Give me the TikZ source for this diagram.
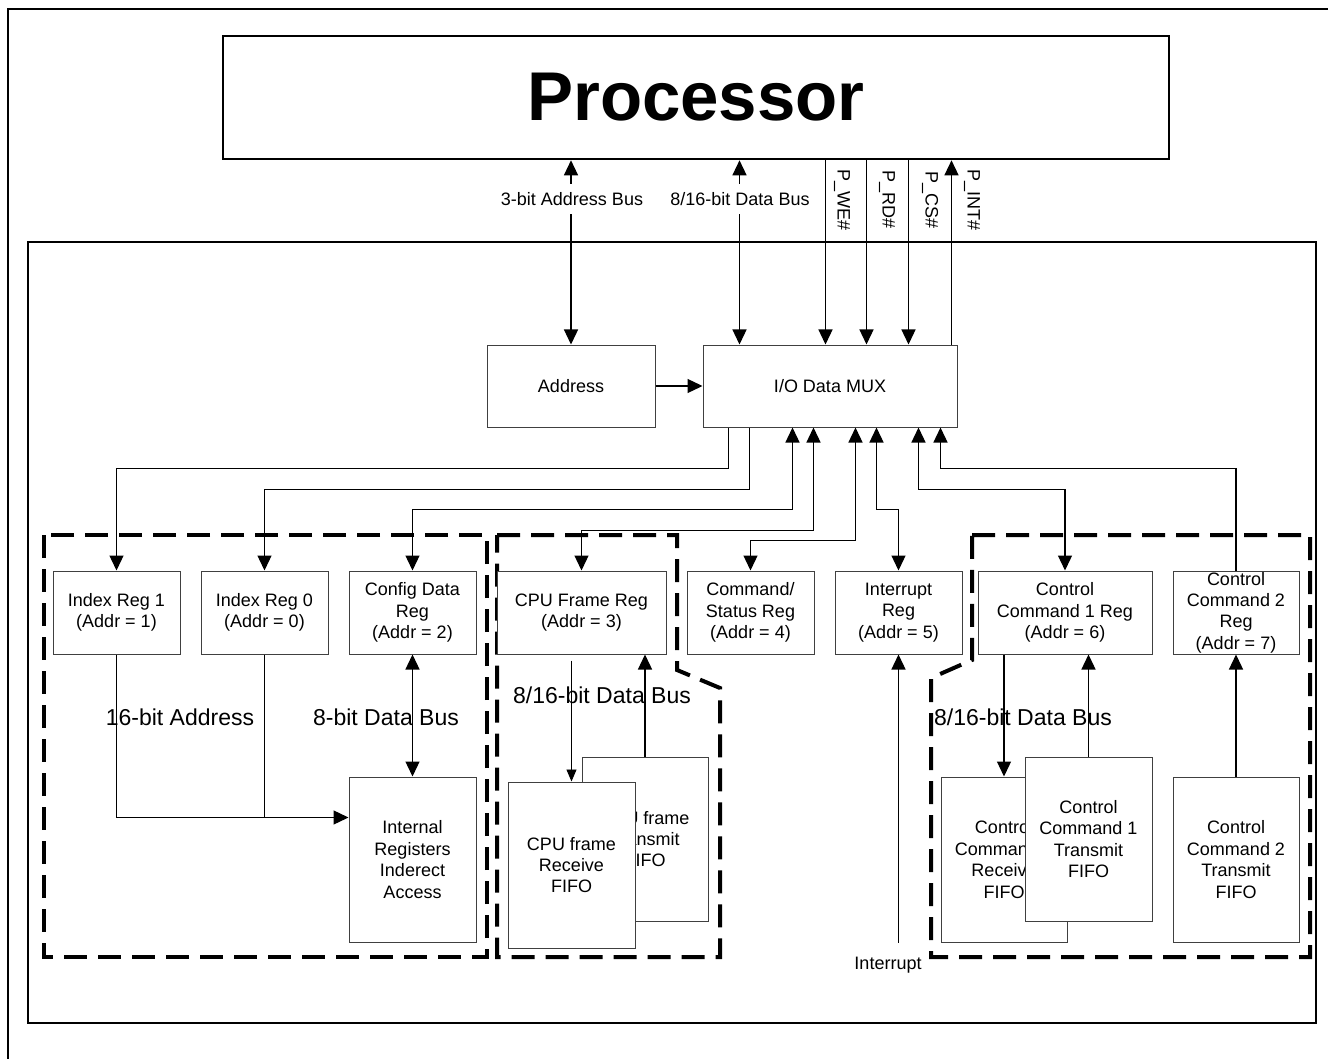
\documentclass[tikz,border=0pt]{standalone}
\usepackage{fontspec}
\setmainfont{Liberation Sans}
\usetikzlibrary{arrows.meta,calc}
\begin{document}
\begin{tikzpicture}[x=0.5pt,y=-0.5pt,
  >={Triangle[length=7.5pt,width=7pt]},
  frame/.style={line width=1.3pt},
  regbox/.style={draw=black!75,line width=0.5pt,fill=white,align=center,inner sep=0pt,
    font=\fontsize{9}{10.7}\selectfont,minimum width=63.5pt,minimum height=41.5pt},
  fifobox/.style={regbox,minimum height=82.5pt},
  conn/.style={line width=0.65pt},
  thinconn/.style={line width=0.45pt,-{Triangle[length=6pt,width=5pt]}},
  grp/.style={line width=2pt,dash pattern=on 11.5pt off 5.5pt},
  small/.style={font=\fontsize{9}{10.7}\selectfont,inner sep=1pt},
  buslab/.style={small,inner ysep=4pt},
  big/.style={font=\fontsize{11.5}{13}\selectfont,inner sep=0pt},
]
\useasboundingbox (0,0) rectangle (1328,1059);
% frames
\draw[frame] (1330,9) -- (8,9) -- (8,1061);
\draw[frame] (28,242) rectangle (1316,1023);
% dashed groups
\draw[grp] (44,535) rectangle (487,957);
\draw[grp] (497,535) -- (677,535) -- (677,670) -- (720,688) -- (720,957) -- (497,957) -- cycle;
\draw[grp] (972,535) -- (1310,535) -- (1310,957) -- (931,957) -- (931,678) -- (972,660) -- cycle;
% processor
\node[draw,frame,minimum width=473pt,minimum height=61.5pt,inner sep=0pt,
  font=\fontsize{34.5}{40}\selectfont\bfseries] (proc) at (696,97.5) {Processor};
% address and mux
\node[regbox,minimum width=84pt,minimum height=41pt] (addr) at (571,386) {Address};
\node[regbox,minimum width=127pt,minimum height=41pt] (mux) at (830,386) {I/O Data MUX};
% registers
\node[regbox] (ir1) at (116.5,612.5) {Index Reg 1\\(Addr = 1)};
\node[regbox] (ir0) at (264.5,612.5) {Index Reg 0\\(Addr = 0)};
\node[regbox] (cfg) at (412.5,612.5) {Config Data\\Reg\\(Addr = 2)};
\node[regbox,minimum width=84.5pt] (cpu) at (581.5,612.5) {CPU Frame Reg\\(Addr = 3)};
\node[regbox] (cmd) at (750.5,612.5) {Command/\\Status Reg\\(Addr = 4)};
\node[regbox] (intr) at (898.5,612.5) {Interrupt\\Reg\\(Addr = 5)};
\node[regbox,minimum width=87pt] (cc1) at (1065,612.5) {Control\\Command 1 Reg\\(Addr = 6)};
\node[regbox,minimum width=63pt] (cc2) at (1236,612.5) {Control\\Command 2\\Reg\\(Addr = 7)};
% fifos
\node[fifobox] (intreg) at (412.5,859.5) {Internal\\Registers\\Inderect\\Access};
\node[fifobox,minimum width=63pt,minimum height=82pt] (tx) at (645,839) {CPU frame\\Transmit\\FIFO};
\node[fifobox,minimum height=83pt] (rx) at (571.5,865) {CPU frame\\Receive\\FIFO};
\node[fifobox,minimum width=63pt] (ccrx) at (1004,859.5) {Control\\Command 1\\Receive\\FIFO};
\node[fifobox,minimum height=82pt] (cctx) at (1088.5,839) {Control\\Command 1\\Transmit\\FIFO};
\node[fifobox,minimum width=63pt] (cc2tx) at (1236,859.5) {Control\\Command 2\\Transmit\\FIFO};
% processor connections
\coordinate (db) at ($(mux.north west)+(37,0)$);
\coordinate (we) at ($(mux.north west)+(123,0)$);
\coordinate (rd) at ($(mux.north west)+(164,0)$);
\coordinate (cs) at ($(mux.north west)+(206,0)$);
\coordinate (int) at ($(mux.north west)+(249,0)$);
\node[buslab] (lab1) at (572,199) {3-bit Address Bus};
\node[buslab] (lab2) at (740,199) {8/16-bit Data Bus};
\draw[conn,<-] (addr.north |- proc.south) -- (addr.north |- lab1.north);
\draw[conn,->] (addr.north |- lab1.south) -- (addr.north);
\draw[conn,<-] (db |- proc.south) -- (db |- lab2.north);
\draw[conn,->] (db |- lab2.south) -- (db);
\draw[conn,->] (we |- proc.south) -- (we);
\draw[conn,->] (rd |- proc.south) -- (rd);
\draw[conn,->] (cs |- proc.south) -- (cs);
\draw[conn,->] (int) -- (int |- proc.south);
\node[small,rotate=-90] (lwe) at (842,200) {P\_WE\#};
\node[small,rotate=-90] (lrd) at (887,200) {P\_RD\#};
\node[small,rotate=-90] (lcs) at (930,200) {P\_CS\#};
\node[small,rotate=-90] (lint) at (972,200) {P\_INT\#};
\draw[conn,->] (addr.east) -- (mux.west |- addr.east);
% mux to registers
\draw[conn,->] ($(mux.south west)+(26,0)$) -- ++(0,41) -| (ir1.north);
\draw[conn,->] ($(mux.south west)+(47,0)$) -- ++(0,62) -| (ir0.north);
\draw[conn,<->] ($(mux.south west)+(90,0)$) -- ++(0,82) -| (cfg.north);
\draw[conn,<->] ($(mux.south west)+(111,0)$) -- ++(0,103) -| (cpu.north);
\draw[conn,<->] ($(mux.south west)+(153,0)$) -- ++(0,113) -| (cmd.north);
\draw[conn,<->] ($(mux.south west)+(174,0)$) -- ++(0,82) -| (intr.north);
\draw[conn,<->] ($(mux.south west)+(216,0)$) -- ++(0,62) -| (cc1.north);
\draw[conn,<-] ($(mux.south west)+(238,0)$) -- ++(0,41) -| (cc2.north);
% left group
\coordinate (j) at ($(intreg.north west)+(0,41)$);
\draw[conn,->] (ir1.south) |- (j);
\draw[conn] (ir0.south) -- (ir0.south |- j);
\draw[conn,<->] (cfg.south) -- (intreg.north);
% cpu group
\coordinate (c1) at ($(rx.north |- cpu.south)+(0,6)$);
\draw[thinconn] (c1) -- (rx.north);
\draw[conn,->] (tx.north) -- (tx.north |- cpu.south);
% control group
\draw[conn,->] (ccrx.north |- cc1.south) -- (ccrx.north);
\draw[conn,->] (cctx.north) -- (cctx.north |- cc1.south);
\draw[conn,->] (cc2tx.north) -- (cc2.south);
% interrupt
\coordinate (ie) at ($(intr.south)+(0,288)$);
\draw[conn,->] (ie) -- (intr.south);
\node[small] (ilab) at (888,965) {Interrupt};
% big labels
\node[big] (l16a) at (180,717) {16-bit Address};
\node[big] (l8d) at (386,717) {8-bit Data Bus};
\node[big] (lcpu) at (602,695) {8/16-bit Data Bus};
\node[big] (lcc) at (1023,717) {8/16-bit Data Bus};
\end{tikzpicture}
\end{document}
